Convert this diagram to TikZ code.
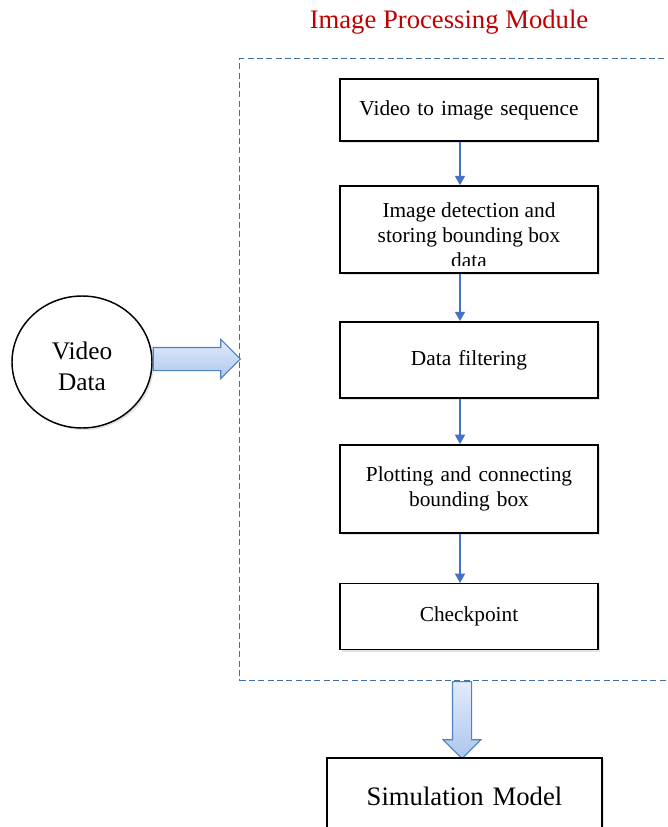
\documentclass[tikz,border=0pt]{standalone}
\usepackage{fontspec}
\setmainfont{Liberation Serif}
\usetikzlibrary{shapes.geometric, shapes.arrows, arrows.meta, positioning, calc, shadows}
\definecolor{framecol}{RGB}{65,113,156}
\definecolor{flowcol}{RGB}{68,114,196}
\definecolor{blockedge}{RGB}{79,129,189}
\definecolor{blocktop}{RGB}{226,235,251}
\definecolor{blockbot}{RGB}{172,198,238}
\definecolor{titlered}{RGB}{192,0,0}
\tikzset{
    boxtext/.style={align=center, font=\fontsize{16}{18.75}\selectfont},
    box/.style={boxtext, draw=black, line width=1.1pt, fill=white, text width=180pt, minimum width=193.5pt, inner sep=0pt, drop shadow={shadow xshift=1.5pt, shadow yshift=-1.5pt, opacity=0.22}},
    source/.style={ellipse, draw=black, line width=1.1pt, fill=white, inner sep=0pt, drop shadow={shadow xshift=1.5pt, shadow yshift=-1.5pt, opacity=0.22}},
    arrow/.style={-{Triangle[width=7.5pt,length=7pt]}, line width=1.1pt, flowcol},
    blockarrow/.style={single arrow, draw=blockedge, line width=0.8pt, top color=blocktop, bottom color=blockbot, single arrow head extend=6pt, inner xsep=0pt, minimum width=0pt},
    modframe/.style={draw=framecol, line width=0.8pt, dash pattern=on 4.5pt off 2.5pt}
}
\begin{document}
\begin{tikzpicture}[x=0.75pt, y=-0.75pt]
    \useasboundingbox (0,0) rectangle (667,827);
    \node [font=\fontsize{20}{24}\selectfont, text=titlered] (title) at (449,22) {Image Processing Module};
    \node [modframe, anchor=north west, minimum width=360pt, minimum height=466.5pt] (module) at (239,58) {};
    % processing steps
    \node [box, minimum height=46.5pt] (seq) at (469,110) {Video to image sequence};
    \node [box, minimum height=65.25pt, below=32.6pt of seq] (detect) {};
    \node [box, minimum height=57pt, below=35.6pt of detect] (filter) {Data filtering};
    \node [box, minimum height=66pt, below=34.1pt of filter] (plot) {Plotting and connecting\\bounding box};
    \node [box, minimum height=49.5pt, below=37.1pt of plot] (check) {Checkpoint};
    \begin{scope}
        \clip (detect.north west) rectangle ([yshift=6pt]detect.south east);
        \node [boxtext, yshift=-4.5pt] (detecttext) at (detect.center) {Image detection and\\storing bounding box\\data};
    \end{scope}
    \draw [arrow] ([xshift=-6.75pt]seq.south) -- ([xshift=-6.75pt]detect.north);
    \draw [arrow] ([xshift=-6.75pt]detect.south) -- ([xshift=-6.75pt]filter.north);
    \draw [arrow] ([xshift=-6.75pt]filter.south) -- ([xshift=-6.75pt]plot.north);
    \draw [arrow] ([xshift=-6.75pt]plot.south) -- ([xshift=-6.75pt]check.north);
    % input and output
    \node [source, minimum width=105pt, minimum height=99pt] (video) at (82,362) {};
    \node [align=center, font=\fontsize{19}{23}\selectfont] (videotext) at ([yshift=-3pt]video.center) {Video\\Data};
    \node [blockarrow, inner ysep=8.25pt, minimum height=65.25pt, anchor=tail] (toModule) at ([yshift=2.25pt]video.east) {};
    \node [blockarrow, rotate=-90, inner ysep=6.75pt, single arrow head extend=7pt, minimum height=57.75pt, anchor=tail] (toModel) at ($(check.south |- module.south)+(-7,0)$) {};
    \node [box, font=\fontsize{20}{24}\selectfont, minimum width=206.25pt, minimum height=57pt, anchor=north] (model) at ($(toModel.tip)+(2.5,-2)$) {Simulation Model};
\end{tikzpicture}
\end{document}
